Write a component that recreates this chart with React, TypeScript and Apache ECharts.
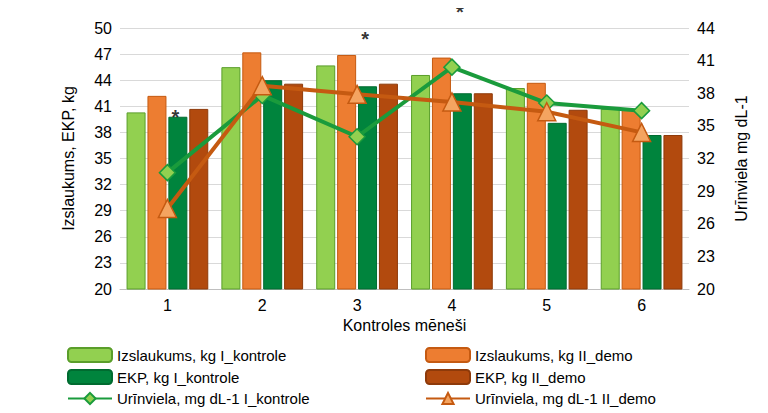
import React, { useEffect, useRef } from 'react';
import * as echarts from 'echarts';

const months = ['1', '2', '3', '4', '5', '6'];
const milkControl = [40.3, 45.5, 45.7, 44.6, 43.1, 40.7];
const milkDemo = [42.2, 47.2, 46.9, 46.6, 43.7, 40.6];
const ekpControl = [39.8, 44.0, 43.3, 42.5, 39.1, 37.7];
const ekpDemo = [40.7, 43.6, 43.6, 42.5, 40.6, 37.7];
const ureaControl = [30.7, 37.8, 34.0, 40.4, 37.1, 36.4];
const ureaDemo = [27.4, 38.7, 37.9, 37.2, 36.3, 34.4];
const starIdx = [0, 2, 3];

const names = [
  'Izslaukums, kg I_kontrole',
  'Izslaukums, kg II_demo',
  'EKP, kg I_kontrole',
  'EKP, kg II_demo',
  'Urīnviela, mg dL-1 I_kontrole',
  'Urīnviela, mg dL-1 II_demo',
];

const font = 'Liberation Sans, Arial, sans-serif';

const App: React.FC = () => {
  const ref = useRef<HTMLDivElement>(null);

  useEffect(() => {
    if (!ref.current) return;
    const chart = echarts.init(ref.current, null, { renderer: 'svg' });
    const bar = (name: string, data: number[], color: string, border: string) => ({
      type: 'bar', name, data, barWidth: 19, barGap: '10%',
      itemStyle: { color, borderColor: border, borderWidth: 1 },
    });
    const legendBase = {
      orient: 'vertical', top: 334, itemGap: 6, itemWidth: 44, itemHeight: 14,
      textStyle: { fontSize: 15, color: '#000', fontFamily: font },
    };
    chart.setOption({
      animation: false,
      textStyle: { fontFamily: font },
      grid: { left: 112, right: 71, top: 20, bottom: 132 },
      legend: [
        { ...legendBase, left: 54, data: [names[0], names[2], names[4]] },
        { ...legendBase, left: 412, data: [names[1], names[3], names[5]] },
      ],
      xAxis: {
        type: 'category', data: months,
        name: 'Kontroles mēneši', nameLocation: 'middle', nameGap: 26,
        nameTextStyle: { fontSize: 16, color: '#000' },
        axisLine: { lineStyle: { color: '#bfbfbf' } }, axisTick: { show: false },
        axisLabel: { fontSize: 16, color: '#000' },
      },
      yAxis: [
        {
          type: 'value', min: 20, max: 50, interval: 3,
          name: 'Izslaukums, EKP, kg', nameLocation: 'middle', nameGap: 44,
          nameTextStyle: { fontSize: 16, color: '#000' },
          axisLabel: { fontSize: 16, color: '#000' },
          splitLine: { lineStyle: { color: '#d9d9d9' } },
        },
        {
          type: 'value', min: 20, max: 44, interval: 3,
          name: 'Urīnviela mg dL-1', nameLocation: 'middle', nameGap: 44, nameRotate: 90,
          nameTextStyle: { fontSize: 16, color: '#000' },
          axisLabel: { fontSize: 16, color: '#000' },
          splitLine: { show: false },
        },
      ],
      series: [
        bar(names[0], milkControl, '#92d050', '#5a9e2a'),
        bar(names[1], milkDemo, '#ed7d31', '#c55a11'),
        bar(names[2], ekpControl, '#00843d', '#006b30'),
        bar(names[3], ekpDemo, '#b24a0e', '#8e3a0a'),
        {
          type: 'line', name: names[4], data: ureaControl, yAxisIndex: 1,
          symbol: 'diamond', symbolSize: 16,
          lineStyle: { color: '#1a9b3c', width: 4 },
          itemStyle: { color: '#92d050', borderColor: '#1a9b3c', borderWidth: 1.5 },
          z: 5,
        },
        {
          type: 'line', name: names[5], data: ureaDemo, yAxisIndex: 1,
          symbol: 'triangle', symbolSize: 18,
          lineStyle: { color: '#c55a11', width: 4 },
          itemStyle: { color: '#f4a460', borderColor: '#c55a11', borderWidth: 1.5 },
          z: 6,
        },
        {
          type: 'scatter', name: 'stars', yAxisIndex: 1, symbolSize: 1,
          itemStyle: { color: 'transparent' },
          data: starIdx.map((i) => [i, Math.max(ureaControl[i], ureaDemo[i])]),
          label: {
            show: true, formatter: '*', fontSize: 20, fontWeight: 'bold', color: '#000',
            position: 'top', offset: [8, -40],
          },
          z: 7,
        },
      ],
    });
    return () => chart.dispose();
  }, []);

  return <div ref={ref} style={{ width: 752, height: 413 }} />;
};

export default App;
